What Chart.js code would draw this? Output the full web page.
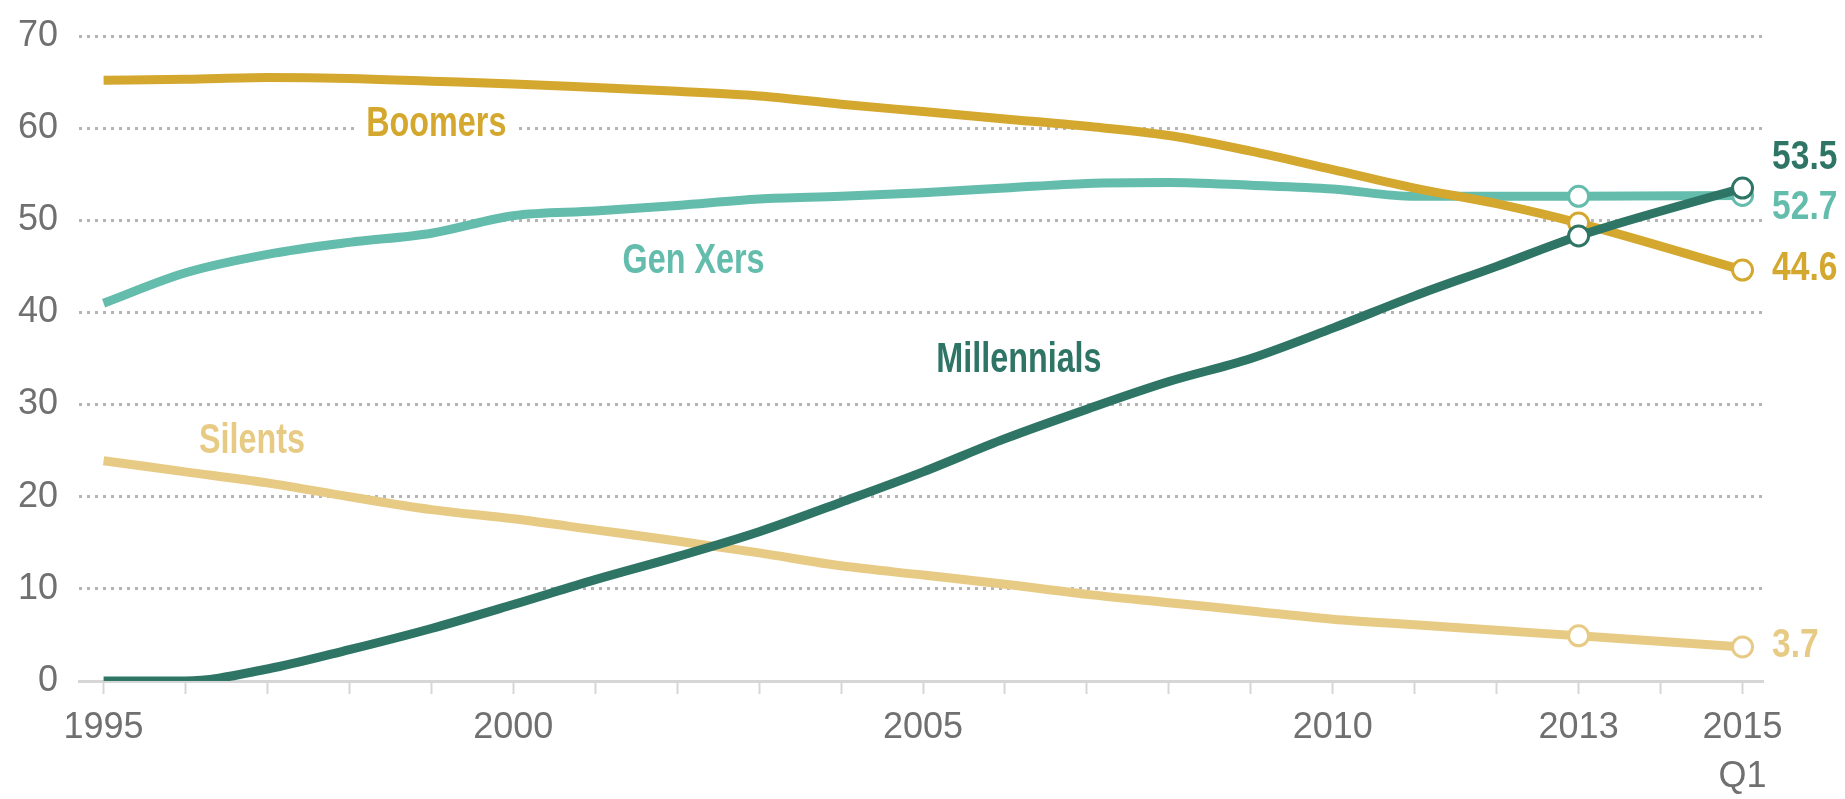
<!DOCTYPE html>
<html>
<head>
<meta charset="utf-8">
<script src="https://cdn.jsdelivr.net/npm/chart.js@4.4.1/dist/chart.umd.min.js"></script>
<style>
  html, body { margin: 0; padding: 0; background: #fff; }
  #wrap { width: 1845px; height: 799px; }
</style>
</head>
<body>
<div id="wrap"><canvas id="chart"></canvas></div>
<script>
// Labor force (millions) by generation
const years = [1995, 1996, 1997, 1998, 1999, 2000, 2001, 2002, 2003, 2004, 2005, 2006, 2007, 2008, 2009, 2010, 2011, 2012, 2013, 2015];
const millennials = [0, 0, 1.3, 3.4, 5.7, 8.3, 11.0, 13.5, 16.2, 19.4, 22.7, 26.3, 29.5, 32.5, 35.0, 38.3, 41.8, 45.0, 48.3, 53.5];
const boomers = [65.2, 65.3, 65.5, 65.4, 65.1, 64.8, 64.4, 64.0, 63.5, 62.6, 61.8, 61.0, 60.2, 59.2, 57.5, 55.5, 53.5, 51.8, 49.7, 44.6];
const genXers = [41.0, 44.3, 46.3, 47.6, 48.6, 50.5, 51.0, 51.6, 52.3, 52.6, 53.0, 53.5, 54.0, 54.1, 53.8, 53.4, 52.6, 52.6, 52.6, 52.7];
const silents = [23.9, 22.7, 21.5, 20.0, 18.6, 17.6, 16.4, 15.2, 13.9, 12.5, 11.5, 10.5, 9.4, 8.5, 7.6, 6.7, 6.1, 5.5, 4.9, 3.7];

const yTicks = [0, 10, 20, 30, 40, 50, 60, 70];
const labeledYears = [1995, 2000, 2005, 2010, 2013, 2015];
const markerYears = [2013, 2015];

const colors = {
    millennials: '#2e7566',
    boomers: '#d4a82e',
    genXers: '#64bcac',
    silents: '#e7cb84'
};

// Series labels: [text, year, value (baseline), color]
const seriesLabels = [
    ['Boomers', 1999.06, 59.2, colors.boomers],
    ['Gen Xers', 2002.2, 44.25, colors.genXers],
    ['Millennials', 2006.17, 33.5, colors.millennials],
    ['Silents', 1996.81, 24.7, colors.silents]
];
const endLabels = [
    ['53.5', 55.6, colors.millennials],
    ['52.7', 50.1, colors.genXers],
    ['44.6', 43.5, colors.boomers],
    ['3.7', 2.6, colors.silents]
];

function makeDataset(label, values, color) {
    return {
        label: label,
        data: years.map((y, i) => ({ x: y, y: values[i] })),
        borderColor: color,
        borderWidth: 9,
        cubicInterpolationMode: 'monotone',
        pointRadius: years.map(y => markerYears.includes(y) ? 10 : 0),
        pointBorderWidth: 3,
        pointBackgroundColor: '#fff',
        pointBorderColor: color,
        pointHoverRadius: 0,
        fill: false
    };
}

const LABEL_FONT = 'bold 42px "Liberation Sans", Arial, sans-serif';
const LABEL_SX = 0.77;

const labelPlugin = {
    id: 'labelPlugin',
    beforeDraw(chart) {
        // keep the gridline extent equal to the x range
        const xs = chart.scales.x;
        const area = chart.chartArea;
        area.left = xs.getPixelForValue(xs.min);
        area.right = xs.getPixelForValue(xs.max);
        area.width = area.right - area.left;
    },
    beforeDatasetsDraw(chart) {
        // white knock-out behind series labels (breaks the dotted gridlines)
        const ctx = chart.ctx;
        const xs = chart.scales.x;
        const ys = chart.scales.y;
        ctx.save();
        ctx.font = LABEL_FONT;
        ctx.fillStyle = '#fff';
        seriesLabels.forEach(([text, yr, val]) => {
            const w = ctx.measureText(text).width * LABEL_SX + 16;
            const cx = xs.getPixelForValue(yr);
            const by = ys.getPixelForValue(val);
            ctx.fillRect(cx - w / 2, by - 36, w, 44);
        });
        ctx.restore();
    },
    afterDatasetsDraw(chart) {
        const ctx = chart.ctx;
        const xs = chart.scales.x;
        const ys = chart.scales.y;
        ctx.save();
        ctx.textBaseline = 'alphabetic';
        ctx.font = LABEL_FONT;
        ctx.textAlign = 'center';
        seriesLabels.forEach(([text, yr, val, color]) => {
            ctx.save();
            ctx.translate(xs.getPixelForValue(yr), ys.getPixelForValue(val));
            ctx.scale(LABEL_SX, 1);
            ctx.fillStyle = color;
            ctx.fillText(text, 0, 0);
            ctx.restore();
        });
        ctx.font = 'bold 40px "Liberation Sans", Arial, sans-serif';
        ctx.textAlign = 'left';
        endLabels.forEach(([text, val, color]) => {
            ctx.save();
            ctx.translate(xs.getPixelForValue(2015.36), ys.getPixelForValue(val));
            ctx.scale(0.84, 1);
            ctx.fillStyle = color;
            ctx.fillText(text, 0, 0);
            ctx.restore();
        });
        ctx.restore();
    }
};

const ctx = document.getElementById('chart').getContext('2d');
new Chart(ctx, {
    type: 'line',
    data: {
        datasets: [
            makeDataset('Millennials', millennials, colors.millennials),
            makeDataset('Boomers', boomers, colors.boomers),
            makeDataset('Gen Xers', genXers, colors.genXers),
            makeDataset('Silents', silents, colors.silents)
        ]
    },
    options: {
        responsive: true,
        maintainAspectRatio: false,
        animation: false,
        events: [],
        layout: { padding: { top: 36, right: 82, bottom: 0, left: 0 } },
        plugins: {
            legend: { display: false },
            tooltip: { enabled: false }
        },
        scales: {
            x: {
                type: 'linear',
                min: 1994.7,
                max: 2015.25,
                afterBuildTicks(scale) {
                    const t = [];
                    for (let y = 1995; y <= 2015; y++) t.push({ value: y });
                    scale.ticks = t;
                },
                afterFit(scale) { scale.height = 118; },
                ticks: {
                    autoSkip: false,
                    maxRotation: 0,
                    padding: 10,
                    color: '#707070',
                    font: { family: '"Liberation Sans", Arial, sans-serif', size: 36, lineHeight: 1.36 },
                    callback(value) {
                        if (!labeledYears.includes(value)) return '';
                        return value === 2015 ? ['2015', 'Q1'] : String(value);
                    }
                },
                grid: {
                    drawOnChartArea: false,
                    drawTicks: true,
                    tickLength: 13,
                    tickWidth: 2,
                    tickColor: '#d6d6d6'
                },
                border: { display: true, color: '#d6d6d6', width: 3 }
            },
            y: {
                min: 0,
                max: 70,
                afterBuildTicks(scale) {
                    scale.ticks = yTicks.map(v => ({ value: v }));
                },
                afterFit(scale) { scale.width = 79; },
                ticks: {
                    padding: 21,
                    color: '#707070',
                    font: { family: '"Liberation Sans", Arial, sans-serif', size: 36, lineHeight: 0.8 }
                },
                grid: {
                    drawTicks: false,
                    lineWidth: 3,
                    color: c => c.tick && c.tick.value === 0 ? 'rgba(0,0,0,0)' : '#b4b4b4'
                },
                border: { display: false, dash: [3, 5] }
            }
        }
    },
    plugins: [labelPlugin]
});
</script>
</body>
</html>
